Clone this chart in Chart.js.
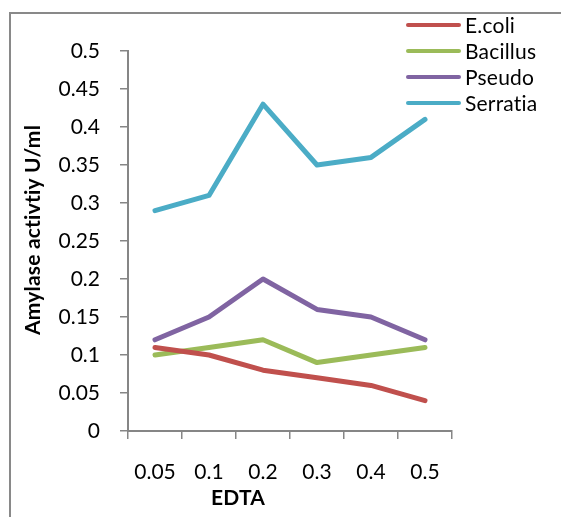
<!DOCTYPE html>
<html>
<head>
<meta charset="utf-8">
<script src="https://cdn.jsdelivr.net/npm/chart.js@4/dist/chart.umd.min.js"></script>
<style>
  html, body { margin: 0; padding: 0; background: #fff; overflow: hidden; }
  #wrap { position: relative; width: 561px; height: 517px; }
  #frame { position: absolute; left: 9px; top: 12px; width: 700px; height: 700px; border: 2px solid #898989; box-sizing: border-box; }
  #c { position: absolute; left: 0; top: 0; }
</style>
</head>
<body>
<div id="wrap">
  <div id="frame"></div>
  <canvas id="c" width="561" height="517"></canvas>
</div>
<script>
const categories = ['0.05', '0.1', '0.2', '0.3', '0.4', '0.5'];
const ecoli    = [0.11, 0.10, 0.08, 0.07, 0.06, 0.04];
const bacillus = [0.10, 0.11, 0.12, 0.09, 0.10, 0.11];
const pseudo   = [0.12, 0.15, 0.20, 0.16, 0.15, 0.12];
const serratia = [0.29, 0.31, 0.43, 0.35, 0.36, 0.41];
const seriesNames = ['E.coli', 'Bacillus', 'Pseudo', 'Serratia'];
const seriesColors = ['#C0504D', '#9BBB59', '#8064A2', '#4BACC6'];
const xTitle = 'EDTA';
const yTitle = 'Amylase activtiy U/ml';

const FONT = 'Lato, "Open Sans", sans-serif';
const AXIS = '#868686';

function ds(label, data, color) {
  return {
    label, data,
    borderColor: color, backgroundColor: color,
    borderWidth: 5, pointRadius: 0, pointHoverRadius: 0,
    tension: 0, borderJoinStyle: 'round', borderCapStyle: 'round', fill: false
  };
}

const extras = {
  id: 'extras',
  afterDraw(chart) {
    const ctx = chart.ctx;
    ctx.save();
    if ('letterSpacing' in ctx) ctx.letterSpacing = '0.2px';
    // legend
    chart.data.datasets.forEach((d, i) => {
      const y = 25 + i * 26;
      ctx.strokeStyle = d.borderColor;
      ctx.lineWidth = 4;
      ctx.lineCap = 'round';
      ctx.beginPath();
      ctx.moveTo(408, y);
      ctx.lineTo(459, y);
      ctx.stroke();
      ctx.fillStyle = '#000';
      ctx.font = '21px ' + FONT;
      ctx.textAlign = 'left';
      ctx.textBaseline = 'middle';
      ctx.fillText(d.label, 465, y + 1);
    });
    // axis titles
    ctx.fillStyle = '#000';
    ctx.font = 'bold 21px ' + FONT;
    ctx.textAlign = 'center';
    ctx.textBaseline = 'middle';
    ctx.fillText(xTitle, 238, 498);
    ctx.translate(33, 230);
    ctx.rotate(-Math.PI / 2);
    ctx.fillText(yTitle, 0, 0);
    ctx.restore();
  }
};

new Chart(document.getElementById('c'), {
  type: 'line',
  data: {
    labels: categories,
    datasets: [
      ds(seriesNames[0], ecoli, seriesColors[0]),
      ds(seriesNames[1], bacillus, seriesColors[1]),
      ds(seriesNames[2], pseudo, seriesColors[2]),
      ds(seriesNames[3], serratia, seriesColors[3])
    ]
  },
  options: {
    responsive: false,
    animation: false,
    devicePixelRatio: 1,
    layout: { padding: { top: 51, right: 109, left: 0, bottom: 0 } },
    plugins: { legend: { display: false }, tooltip: { enabled: false } },
    scales: {
      x: {
        offset: true,
        grid: { display: true, drawOnChartArea: false, offset: true, tickLength: 8, color: AXIS, lineWidth: 1.5 },
        border: { display: true, color: AXIS, width: 2 },
        ticks: { color: '#000', font: { family: FONT, size: 21 }, padding: 21, maxRotation: 0 },
        afterFit(s) { s.height = 86; }
      },
      y: {
        min: 0, max: 0.5,
        grid: { display: true, drawOnChartArea: false, tickLength: 8, color: AXIS, lineWidth: 1.5 },
        border: { display: true, color: AXIS, width: 2 },
        ticks: {
          stepSize: 0.05, color: '#000', font: { family: FONT, size: 21 }, padding: 20,
          callback: v => String(Number(v.toFixed(2)))
        },
        afterFit(s) { s.width = 128; }
      }
    }
  },
  plugins: [extras]
});
</script>
</body>
</html>
